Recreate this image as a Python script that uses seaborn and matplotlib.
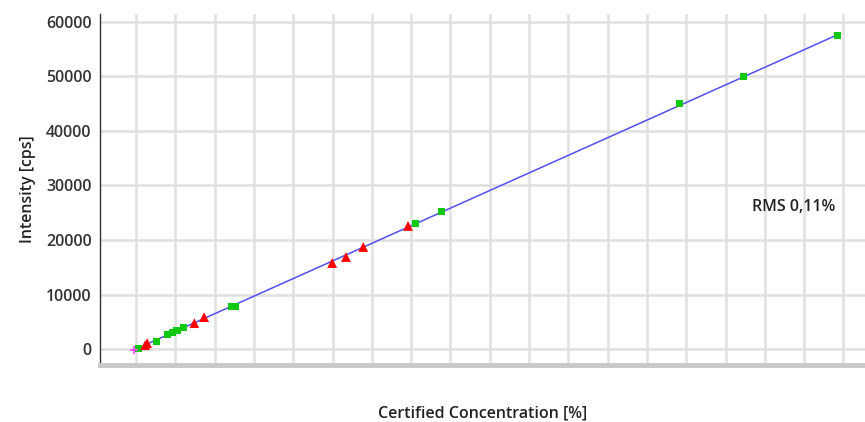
import numpy as np
import pandas as pd
import matplotlib
matplotlib.use("Agg")
import matplotlib.pyplot as plt
import seaborn as sns

# Calibration standards (concentration in %, intensity in cps)
green_conc = [0.05, 0.51, 0.79, 0.92, 1.04, 1.20, 2.44, 2.52, 7.10, 7.76, 13.84, 15.45, 17.86]
green_int = [180, 1470, 2750, 3120, 3490, 4040, 7890, 7890, 22940, 25140, 44950, 49910, 57430]

red_conc = [0.23, 0.28, 1.48, 1.73, 4.99, 5.34, 5.78, 6.92]
red_int = [730, 1100, 4770, 5870, 15780, 16880, 18720, 22570]

blank_conc = [-0.05]
blank_int = [-150]

rms_text = "RMS 0,11%"
y_ticks = [0, 10000, 20000, 30000, 40000, 50000, 60000]
x_grid = list(range(0, 19))

sns.set_style("white")
plt.rcParams["font.family"] = ["Open Sans", "DejaVu Sans"]

fig = plt.figure(figsize=(8.65, 4.22), dpi=100)
ax = fig.add_axes([0.1156, 0.1351, 0.8844, 0.8318])

# Calibration line through all points
all_conc = np.array(blank_conc + green_conc + red_conc)
all_int = np.array(blank_int + green_int + red_int)
slope, intercept = np.polyfit(all_conc, all_int, 1)
line_x = np.array([all_conc.min(), all_conc.max()])
line_df = pd.DataFrame({"conc": line_x, "int": slope * line_x + intercept})
sns.lineplot(data=line_df, x="conc", y="int", ax=ax, color="#5050ee", lw=1.1, zorder=3)

sns.scatterplot(x=green_conc, y=green_int, ax=ax, marker="s", s=26, color="#10c810",
                edgecolor="none", zorder=4)
sns.scatterplot(x=red_conc, y=red_int, ax=ax, marker="^", s=50, color="#ff0000",
                edgecolor="none", zorder=4)
sns.scatterplot(x=blank_conc, y=blank_int, ax=ax, marker="+", s=30, color="#ff44ff",
                linewidth=1.2, zorder=4)

ax.set_xlim(-0.92, 18.55)
ax.set_ylim(-2900, 61400)
ax.set_xticks(x_grid)
ax.set_xticklabels([])
ax.set_yticks(y_ticks)
ax.set_yticklabels([str(t) for t in y_ticks], fontsize=11.5, color="#333333", fontweight="semibold")

ax.grid(True, color="#e0e0e0", lw=1.8, zorder=0)
ax.set_axisbelow(True)
for side in ["top", "right"]:
    ax.spines[side].set_visible(False)
ax.spines["left"].set_color("#333333")
ax.spines["left"].set_linewidth(1.0)
ax.spines["bottom"].set_color("#c8c8c8")
ax.spines["bottom"].set_linewidth(3.5)
ax.tick_params(axis="x", length=7, color="#cccccc", width=1)
ax.tick_params(axis="y", length=3, color="#555555", width=0.8, pad=3)

ax.set_xlabel("Certified Concentration [%]", fontsize=11.5, color="#222222", fontweight="semibold")
ax.xaxis.set_label_coords(0.5, -0.115)
ax.set_ylabel("Intensity [cps]", fontsize=11.5, color="#222222", fontweight="semibold")
ax.yaxis.set_label_coords(-0.083, 0.5)

ax.text(15.67, 26050, rms_text, fontsize=11.5, color="#222222", va="center", ha="left",
        fontweight="semibold")

fig.savefig("out.png", dpi=100)
